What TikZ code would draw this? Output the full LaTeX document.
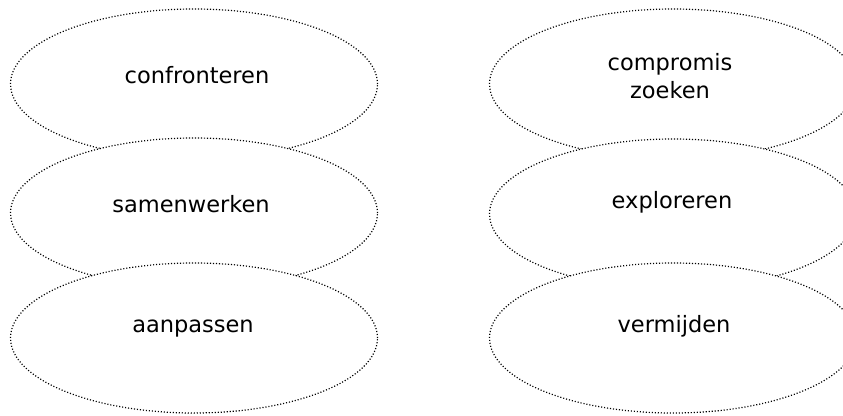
\documentclass[tikz,border=0pt]{standalone}
\usepackage{fontspec}
\setmainfont{DejaVu Sans}
\usetikzlibrary{shapes.geometric}
\begin{document}
\begin{tikzpicture}[x=1pt,y=-1pt,
  blob/.style={ellipse,draw=black,fill=white,line width=1.2pt,
    dash pattern=on 1.1pt off 1.9pt,inner sep=0pt,outer sep=0pt,
    minimum width=367pt,minimum height=150pt},
  lbl/.style={anchor=base,font=\fontsize{22.5}{28}\selectfont,align=center,inner sep=0pt}]
\useasboundingbox (0,0) rectangle (843,415);
% left column
\node[blob] (e1) at (194,84) {};
\node[blob] (e2) at (194,213) {};
\node[blob] (e3) at (194,338) {};
\node[lbl] (t1) at (197,83) {confronteren};
\node[lbl] (t2) at (191,212) {samenwerken};
\node[lbl] (t3) at (193,332) {aanpassen};
% right column
\node[blob] (f1) at (673,84) {};
\node[blob] (f2) at (673,214) {};
\node[blob] (f3) at (673,338) {};
\node[lbl] (u1) at (670,98) {compromis\\zoeken};
\node[lbl] (u2) at (672,208) {exploreren};
\node[lbl] (u3) at (674,332) {vermijden};
\end{tikzpicture}
\end{document}
